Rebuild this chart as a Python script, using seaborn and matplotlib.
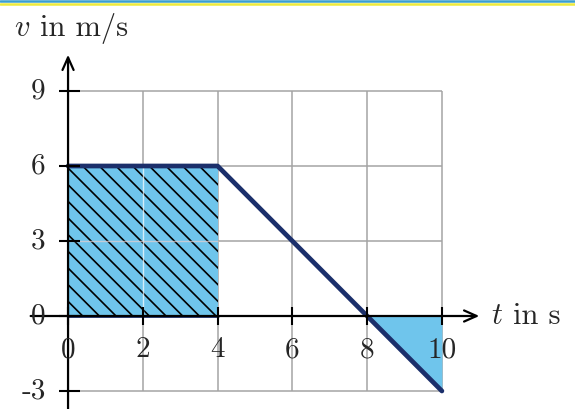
import matplotlib
matplotlib.use("Agg")
import matplotlib.pyplot as plt
import seaborn as sns
from matplotlib.lines import Line2D

# velocity-time graph: knots of the polyline
t_knots = [0, 4, 8, 10]
v_knots = [6, 6, 0, -3]

x_ticks = [0, 2, 4, 6, 8, 10]
y_ticks = [-3, 0, 3, 6, 9]
x_ticklabels = ["0", "2", "4", "6", "8", "10"]
y_ticklabels = ["-3", "0", "3", "6", "9"]

sns.set_style("white")
plt.rcParams["mathtext.fontset"] = "cm"
plt.rcParams["hatch.linewidth"] = 1.2

line_col = "#1b2f6b"
fill_col = "#6fc5ec"
grid_col = "#a4a4a4"

fig = plt.figure(figsize=(5.75, 4.09), dpi=100)
ax = fig.add_axes([0, 0, 1, 1])
ax.set_xlim(-1.82, 13.56)
ax.set_ylim(-3.72, 12.64)
ax.axis("off")

# grid
ax.vlines(x_ticks[1:], -3, 9, color=grid_col, lw=1.1, zorder=1)
ax.hlines([y for y in y_ticks if y != 0], 0, 10, color=grid_col, lw=1.1, zorder=1)

# hatched area under the first part (0..4 s)
ax.fill_between(t_knots[:2], 0, v_knots[:2], facecolor=fill_col,
                edgecolor="black", hatch="\\\\", lw=0, zorder=2)
# negative area (8..10 s)
ax.fill_between(t_knots[2:], 0, v_knots[2:], facecolor=fill_col, lw=0, zorder=2)

# faint grid lines showing through the fill
ax.vlines([2], 0, 6, color="white", lw=1.0, alpha=0.7, zorder=3)
ax.hlines([3], 0, 4, color="#e8d0d0", lw=1.0, alpha=0.7, zorder=3)

# velocity line
sns.lineplot(x=t_knots, y=v_knots, ax=ax, color=line_col, lw=3.4,
             zorder=5, solid_joinstyle="round", solid_capstyle="round")
ax.plot([0, 4], [0, 0], color=line_col, lw=2, zorder=4)

# axes arrows
arrow = dict(arrowstyle="->,head_length=0.9,head_width=0.4",
             color="black", lw=1.6, shrinkA=0, shrinkB=0)
ax.annotate("", xy=(11.0, 0), xytext=(-1.0, 0), arrowprops=arrow, zorder=6)
ax.annotate("", xy=(0, 10.45), xytext=(0, -3.72), arrowprops=arrow, zorder=6)

# tick marks
ax.vlines(x_ticks, -0.36, 0.36, color="black", lw=1.5, zorder=6)
ax.hlines(y_ticks, -0.24, 0.32, color="black", lw=1.5, zorder=6)

# tick labels
for x, lab in zip(x_ticks, x_ticklabels):
    ax.text(x, -1.36, lab, ha="center", va="center", fontsize=21,
            family="cmr10", zorder=7)
for y, lab in zip(y_ticks, y_ticklabels):
    ax.text(-0.6, y, lab, ha="right", va="center", fontsize=21,
            family="cmr10", zorder=7)

# axis titles
ax.text(-1.45, 11.52, r"$v$", ha="left", va="center", fontsize=22)
ax.text(-0.75, 11.52, "in m/s", ha="left", va="center", fontsize=22, family="cmr10")
ax.text(11.3, 0, r"$t$", ha="left", va="center", fontsize=22)
ax.text(11.9, 0, "in s", ha="left", va="center", fontsize=22, family="cmr10")

# coloured border at the top
fig.add_artist(Line2D([0, 1], [1 - 1.2 / 409] * 2, transform=fig.transFigure,
                      color="#3a9fd0", lw=1.8))
fig.add_artist(Line2D([0, 1], [1 - 3.8 / 409] * 2, transform=fig.transFigure,
                      color="#eeea3c", lw=1.8))

fig.savefig("out.png", dpi=100)
